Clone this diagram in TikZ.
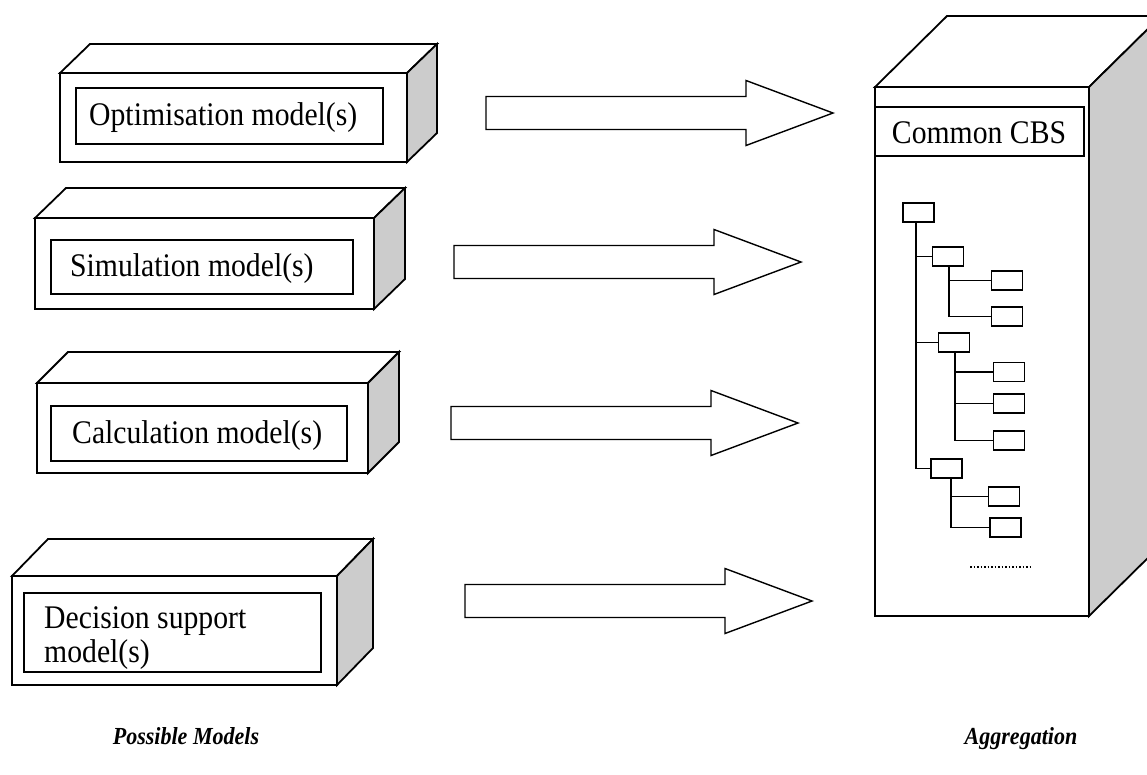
\documentclass[tikz,border=0pt]{standalone}
\usepackage{fontspec}
\setmainfont{Liberation Serif}[FakeStretch=0.9]
\definecolor{sidegray}{RGB}{204,204,204}
\newcommand\drawcube[6]{% x1 y1 x2 y2 dx dy(up)
  \filldraw[boxline, fill=white] (#1,#2) -- (#1+#5,#2-#6) -- (#3+#5,#2-#6) -- (#3,#2) -- cycle;
  \filldraw[boxline, fill=sidegray] (#3,#2) -- (#3+#5,#2-#6) -- (#3+#5,#4-#6) -- (#3,#4) -- cycle;
  \filldraw[boxline, fill=white] (#1,#2) rectangle (#3,#4);
}
\begin{document}
\begin{tikzpicture}[x=1pt,y=-1pt,
  boxline/.style={draw=black, line width=1.8pt, line join=miter},
  innerbox/.style={draw=black, line width=1.8pt, inner sep=0pt},
  modeltext/.style={font=\fontsize{33}{34}\selectfont, anchor=west, inner sep=0pt, align=left},
  treebox/.style={draw=black, line width=1.6pt, minimum width=31pt, minimum height=19pt, inner sep=0pt},
  treeline/.style={line width=1.7pt},
  caption/.style={font=\fontsize{24.5}{28}\selectfont\bfseries\itshape, anchor=base, inner sep=0pt},
  blockarrow/.pic={\filldraw[draw=black, fill=white, line width=1.4pt, line join=miter]
     (0,-16.5) -- (260,-16.5) -- (260,-32.5) -- (347,0) -- (260,32.5) -- (260,16.5) -- (0,16.5) -- cycle;}
]
\useasboundingbox (0,0) rectangle (1147,774);
\clip (0,0) rectangle (1147,774);

% ---------- model boxes ----------
\drawcube{60}{73}{407}{162}{30}{29}
\node[innerbox, minimum width=307pt, minimum height=56pt] (optbox) at (229.5,116) {};
\node[modeltext] (opt) at (89,118) {Optimisation model(s)};

\drawcube{35}{218}{374}{309}{31}{30}
\node[innerbox, minimum width=302pt, minimum height=54pt] (simbox) at (202,267) {};
\node[modeltext] (sim) at (70,269) {Simulation model(s)};

\drawcube{37}{383}{368}{473}{31}{31}
\node[innerbox, minimum width=296pt, minimum height=55pt] (calbox) at (199,433.5) {};
\node[modeltext] (cal) at (72,436) {Calculation model(s)};

\drawcube{12}{576}{337}{685}{36}{37}
\node[innerbox, minimum width=297pt, minimum height=79pt] (decbox) at (172.5,632.5) {};
\node[modeltext] (dec) at (44,638) {Decision support\\model(s)};

% ---------- block arrows ----------
\pic at (486,113) {blockarrow};
\pic at (454,262) {blockarrow};
\pic at (451,423) {blockarrow};
\pic at (465,601) {blockarrow};

% ---------- server ----------
\drawcube{875}{87}{1089}{616}{72}{71}
\node[innerbox, minimum width=209pt, minimum height=49pt] (cbsbox) at (979.5,131.5) {};
\node[font=\fontsize{33}{34}\selectfont, inner sep=0pt] (cbs) at (979,133) {Common CBS};

% ---------- tree ----------
\node[treebox] (r)  at (918.5,212.5) {};
\node[treebox] (c1) at (948,256.5) {};
\node[treebox] (g1) at (1007,280.5) {};
\node[treebox] (g2) at (1007,316.5) {};
\node[treebox] (c2) at (954,342.5) {};
\node[treebox] (g3) at (1009,372) {};
\node[treebox] (g4) at (1009,403.5) {};
\node[treebox] (g5) at (1009,440.5) {};
\node[treebox] (c3) at (946.5,468.5) {};
\node[treebox] (g6) at (1004,496.5) {};
\node[treebox] (g7) at (1005.5,527.5) {};

\coordinate (trunk) at (916,222);
\draw[treeline] (trunk) -- (trunk |- c3.west) -- (c3.west);
\draw[treeline] (trunk |- c1.west) -- (c1.west);
\draw[treeline] (trunk |- c2.west) -- (c2.west);

\coordinate (s1) at (949,266);
\draw[treeline] (s1) -- (s1 |- g2.west) -- (g2.west);
\draw[treeline] (s1 |- g1.west) -- (g1.west);

\coordinate (s2) at (955,352);
\draw[treeline] (s2) -- (s2 |- g5.west) -- (g5.west);
\draw[treeline] (s2 |- g3.west) -- (g3.west);
\draw[treeline] (s2 |- g4.west) -- (g4.west);

\coordinate (s3) at (951,478);
\draw[treeline] (s3) -- (s3 |- g7.west) -- (g7.west);
\draw[treeline] (s3 |- g6.west) -- (g6.west);

\coordinate (dotA) at (970,567);
\coordinate (dotB) at (1033,567);
\draw[line width=1.5pt, dash pattern=on 1.5pt off 2pt] (dotA) -- (dotB);

% ---------- captions ----------
\node[caption] (possible) at (186,744) {Possible Models};
\node[caption] (aggr) at (1021,744) {Aggregation};
\end{tikzpicture}
\end{document}
